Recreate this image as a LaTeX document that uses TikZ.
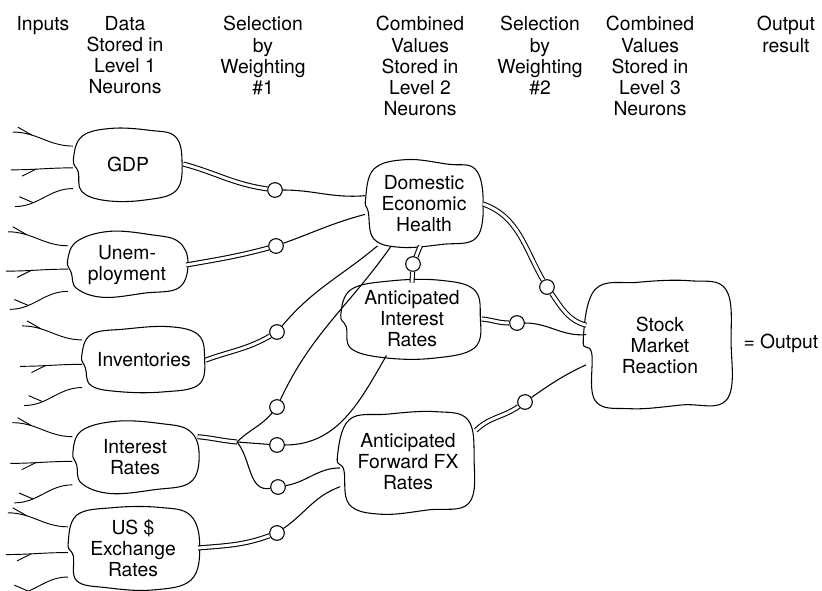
\documentclass[tikz,border=0pt]{standalone}
\usepackage{fontspec}
\setmainfont{TeX Gyre Heros}
\usetikzlibrary{calc}

\begin{document}
\pgfmathsetseed{11}
\begin{tikzpicture}[x=0.75pt, y=0.75pt, line width=0.8pt,
        font=\fontsize{14.5}{15.8}\selectfont,
        neuron/.style={align=center, inner sep=2pt},
        blob/.style={line width=0.8pt, smooth cycle, tension=0.65},
        synapse/.style={circle, draw, fill=white, minimum size=11pt, inner sep=0pt},
        axon/.style={double, double distance=2.2pt},
        dendrite/.style={line width=0.7pt},
        heading/.style={anchor=north, align=center, inner sep=0pt}]

        \useasboundingbox (0,0) rectangle (822,590);

        % Column headings
        \node[heading] (hIn) at (43,574) {Inputs};
        \node[heading] (hL1) at (125,574) {Data\\Stored in\\Level 1\\Neurons};
        \node[heading] (hW1) at (263,574) {Selection\\by\\Weighting\\\#1};
        \node[heading] (hL2) at (420,574) {Combined\\Values\\Stored in\\Level 2\\Neurons};
        \node[heading] (hW2) at (540,574) {Selection\\by\\Weighting\\\#2};
        \node[heading] (hL3) at (650,574) {Combined\\Values\\Stored in\\Level 3\\Neurons};
        \node[heading] (hOut) at (786,574) {Output\\result};

        % Level 1 neurons
        \node[neuron, minimum width=82pt, minimum height=51pt] (gdp) at (128,426) {GDP};
        \node[neuron, minimum width=88pt, minimum height=45pt] (unemp) at (127,325) {Unem-\\ployment};
        \node[neuron, minimum width=92pt, minimum height=48pt] (invent) at (144,230) {Inventories};
        \node[neuron, minimum width=93pt, minimum height=49pt] (intr) at (135,133) {Interest\\Rates};
        \node[neuron, minimum width=97pt, minimum height=59pt] (usd) at (133,42) {US \$\\Exchange\\Rates};

        % Level 2 and 3 neurons
        \node[neuron, minimum width=88pt, minimum height=62pt] (deh) at (424,386) {Domestic\\Economic\\Health};
        \node[neuron, minimum width=104pt, minimum height=54pt] (air) at (412,271) {Anticipated\\Interest\\Rates};
        \node[neuron, minimum width=101pt, minimum height=73pt] (fx) at (408,128) {Anticipated\\Forward FX\\Rates};
        \node[neuron, minimum width=110pt, minimum height=93pt] (smr) at (660,245) {Stock\\Market\\Reaction};
        \node[anchor=west, inner sep=0pt] (out) at (743,247) {= Output};

        % Cell outlines
        \foreach \n in {gdp,unemp,invent,intr,usd,deh,air,fx,smr}{
            \draw plot[blob] coordinates {
                ($(\n.north west)+(9,-7)$)
                ($(\n.north west)!.35!(\n.north east)+(0,{1+3*rand})$)
                ($(\n.north west)!.7!(\n.north east)+(0,{3*rand})$)
                ($(\n.north east)+(-8,-7)$)
                ($(\n.east)+({3*rand},3)$)
                ($(\n.south east)+(-7,8)$)
                ($(\n.south west)!.65!(\n.south east)+(0,{3*rand})$)
                ($(\n.south west)!.3!(\n.south east)+(0,{-1+3*rand})$)
                ($(\n.south west)+(9,7)$)
                ($(\n.west)+({5+2*rand},-8)$)
                ($(\n.west)+({-1+2*rand},4)$)};
        }

        % Weightings
        \node[synapse] (w11) at (275,400) {};
        \node[synapse] (w12) at (276,344) {};
        \node[synapse] (w13) at (277,258) {};
        \node[synapse] (w14) at (277,183) {};
        \node[synapse] (w15) at (277,145) {};
        \node[synapse] (w16) at (278,103) {};
        \node[synapse] (w17) at (277,57) {};
        \node[synapse] (w21) at (413,326) {};
        \node[synapse] (w22) at (547,303) {};
        \node[synapse] (w23) at (517,267) {};
        \node[synapse] (w24) at (525,188) {};
        \coordinate (j) at (237,148);

        % Inputs
        \foreach \n in {gdp,unemp,invent,intr,usd}{
            \draw[dendrite] (\n.162) to[out=180,in=0] coordinate[pos=.7] (\n-a) ++(-60,14);
            \draw[dendrite] (\n-a) -- ++(-14,8);
            \draw[dendrite] (\n.184) to[out=180,in=0] coordinate[pos=.6] (\n-b) ++(-62,-2);
            \draw[dendrite] (\n-b) -- ++(-14,-7);
            \draw[dendrite] (\n.204) to[out=180,in=0] coordinate[pos=.7] (\n-c) ++(-58,-18);
            \draw[dendrite] (\n-c) -- ++(-14,6);
        }

        % Level 1 to weighting #1
        \draw[axon] (gdp.east) to[out=-15, in=172] (w11);
        \draw[axon] (unemp.east) to[out=10, in=195] (w12);
        \draw[axon] (invent.east) to[out=20, in=210] (w13);
        \draw[axon] (intr.18) to[out=-5, in=175] (j);
        \draw[axon] (usd.east) to[out=5, in=200] (w17);
        \draw (j) to[out=45, in=230] (w14);
        \draw (j) -- (w15);
        \draw (j) to[out=-50, in=190] (w16);

        % Weighting #1 to level 2
        \draw (w11) to[out=0, in=185] (deh.172);
        \draw (w12) to[out=20, in=195] (deh.190);
        \draw (w13) to[out=50, in=220] (deh.222);
        \draw (w14) to[out=65, in=235] (deh.232);
        \draw (w15) to[out=0, in=240] (air.235);
        \draw (w16) to[out=10, in=180] (fx.185);
        \draw (w17) to[out=35, in=200] (fx.200);

        % Level 2 to level 3
        \draw[axon] (deh.265) -- (w21);
        \draw[axon] (w21) -- (air.north);
        \draw[axon] (deh.east) to[out=-20, in=120] (w22);
        \draw[axon] (w22) to[out=-55, in=165] (smr.165);
        \draw[axon] (air.east) to[out=-5, in=180] (w23);
        \draw (w23) to[out=0, in=185] (smr.172);
        \draw[axon] (fx.25) to[out=45, in=215] (w24);
        \draw (w24) to[out=35, in=205] (smr.195);
    \end{tikzpicture}
\end{document}
